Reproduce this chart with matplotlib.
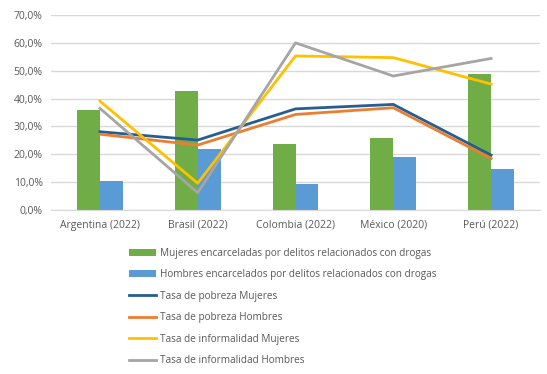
import matplotlib
matplotlib.use("Agg")
import matplotlib.pyplot as plt
import numpy as np
from matplotlib.ticker import FuncFormatter

categories = ["Argentina (2022)", "Brasil (2022)", "Colombia (2022)", "México (2020)", "Perú (2022)"]
mujeres_encarceladas = [36.0, 42.8, 23.7, 25.8, 48.8]
hombres_encarcelados = [10.5, 22.0, 9.3, 19.0, 14.7]
pobreza_mujeres = [28.1, 25.1, 36.3, 37.9, 19.7]
pobreza_hombres = [27.2, 23.3, 34.3, 36.7, 18.5]
informalidad_mujeres = [39.1, 9.6, 55.3, 54.7, 45.2]
informalidad_hombres = [36.5, 6.2, 60.0, 48.1, 54.4]

labels = ["Mujeres encarceladas por delitos relacionados con drogas",
          "Hombres encarcelados por delitos relacionados con drogas",
          "Tasa de pobreza Mujeres",
          "Tasa de pobreza Hombres",
          "Tasa de informalidad Mujeres",
          "Tasa de informalidad Hombres"]

plt.rcParams['font.family'] = ['Open Sans', 'DejaVu Sans']
fig = plt.figure(figsize=(5.47, 3.74), dpi=100)
ax = fig.add_axes([51/547, 1-210/374, (540-51)/547, (210-15)/374])

x = np.arange(len(categories))
w = 0.235
text_c = "#595959"
b1 = ax.bar(x - w/2, mujeres_encarceladas, w, color="#70AD47", zorder=2)
b2 = ax.bar(x + w/2, hombres_encarcelados, w, color="#5B9BD5", zorder=2)
lw = 2.0
l1, = ax.plot(x, pobreza_mujeres, color="#255E91", lw=lw, zorder=3)
l2, = ax.plot(x, pobreza_hombres, color="#ED7D31", lw=lw, zorder=3)
l3, = ax.plot(x, informalidad_mujeres, color="#FFC000", lw=lw, zorder=3)
l4, = ax.plot(x, informalidad_hombres, color="#A5A5A5", lw=lw, zorder=3)

ax.set_xlim(-0.5, len(categories) - 0.5)
ax.set_ylim(0, 70)
ax.set_yticks(np.arange(0, 71, 10))
ax.yaxis.set_major_formatter(FuncFormatter(lambda v, p: f"{v:.1f}%".replace(".", ",")))
ax.set_xticks(x)
ax.set_xticklabels(categories)
ax.grid(axis="y", color="#D9D9D9", lw=1, zorder=0)
ax.set_axisbelow(True)
for s in ["top", "right", "left"]:
    ax.spines[s].set_visible(False)
ax.spines["bottom"].set_color("#D9D9D9")
ax.tick_params(axis="both", length=0, labelsize=7.5, colors=text_c, pad=6)
ax.tick_params(axis="x", pad=7)

handles = [b1, b2, l1, l2, l3, l4]
leg = fig.legend(handles, labels, loc="upper left", bbox_to_anchor=(125/547, 1-244/374),
                 frameon=False, fontsize=7.2, labelcolor=text_c, handlelength=2.7,
                 handletextpad=0.45, labelspacing=1.04, borderaxespad=0)
fig.savefig("out.png", dpi=100)
